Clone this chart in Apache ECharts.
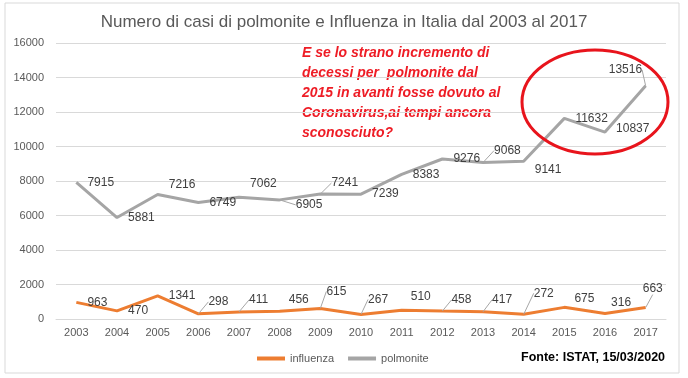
<!DOCTYPE html>
<html>
<head>
<meta charset="utf-8">
<script src="https://cdn.jsdelivr.net/npm/echarts@6/dist/echarts.min.js"></script>
<style>html,body{margin:0;padding:0;background:#fff}#c{width:688px;height:378px}</style>
</head>
<body>
<div id="c"></div>
<script>
const years = ['2003','2004','2005','2006','2007','2008','2009','2010','2011','2012','2013','2014','2015','2016','2017'];
const influenza = [963,470,1341,298,411,456,615,267,510,458,417,272,675,316,663];
const polmonite = [7915,5881,7216,6749,7062,6905,7241,7239,8383,9276,9068,9141,11632,10837,13516];
const yTicks = [0,2000,4000,6000,8000,10000,12000,14000,16000];

// label nudges (dx, dy) relative to the 'right' position
const polOffsets = [[1,0],[1,0],[1,-10],[1,0],[1,-13],[6,5],[1,-11],[1,0],[1,0],[1,0],[1,-12],[1,8],[1,0],[1,-3],[-47,-16]];
const polLeader = [0,0,0,0,0,1,1,0,0,0,1,0,0,0,1];
const infOffsets = [[1,0],[1,0],[1,0],[0,-12],[0,-12],[-1,-11],[-4,-17],[-3,-15],[-1,-14],[-1,-11],[-1,-12],[0,-21],[0,-9],[-4,-11],[-13,-19]];
const infLeader = [0,0,0,1,1,0,1,1,0,1,1,1,0,0,1];

const chart = echarts.init(document.getElementById('c'));
const FONT = 'Liberation Sans';

function mk(vals, leader){
  return vals.map((v,i)=>({value:v, labelLine:{show:!!leader[i]}}));
}
function layoutFn(offs){
  return function(p){ const o = offs[p.dataIndex]; return {dx:o[0], dy:o[1]}; };
}

chart.setOption({
  animation:false,
  textStyle:{fontFamily:FONT},
  title:{
    text:'Numero di casi di polmonite e Influenza in Italia dal 2003 al 2017',
    left:'center', top:9,
    textStyle:{fontFamily:FONT, fontSize:17, fontWeight:'normal', color:'#595959'}
  },
  grid:{left:56, right:22, top:43, bottom:59, containLabel:false},
  legend:{
    data:['influenza','polmonite'],
    left:252, top:348,
    itemWidth:28, itemHeight:4, itemGap:14,
    icon:'rect',
    textStyle:{fontFamily:FONT, fontSize:11, color:'#595959'}
  },
  xAxis:{
    type:'category', data:years, boundaryGap:true,
    axisLine:{show:true, lineStyle:{color:'#d9d9d9'}},
    axisTick:{show:false},
    axisLabel:{color:'#595959', fontSize:11, margin:8, fontFamily:FONT}
  },
  yAxis:{
    type:'value', min:yTicks[0], max:yTicks[yTicks.length-1], interval:2000,
    axisLine:{show:false}, axisTick:{show:false},
    splitLine:{lineStyle:{color:'#d9d9d9', width:1}},
    axisLabel:{color:'#595959', fontSize:11, margin:12, fontFamily:FONT, formatter:v=>String(v)}
  },
  series:[
    {
      name:'influenza', type:'line', data:mk(influenza, infLeader),
      symbol:'circle', symbolSize:0.1, showSymbol:true,
      lineStyle:{color:'#ED7D31', width:3}, itemStyle:{color:'#ED7D31'},
      label:{show:true, position:'right', distance:10, color:'#404040', fontSize:12, fontFamily:FONT},
      labelLine:{show:false, lineStyle:{color:'#a6a6a6', width:1}},
      labelLayout:layoutFn(infOffsets)
    },
    {
      name:'polmonite', type:'line', data:mk(polmonite, polLeader),
      symbol:'circle', symbolSize:0.1, showSymbol:true,
      lineStyle:{color:'#A5A5A5', width:3}, itemStyle:{color:'#A5A5A5'},
      label:{show:true, position:'right', distance:10, color:'#404040', fontSize:12, fontFamily:FONT},
      labelLine:{show:false, lineStyle:{color:'#a6a6a6', width:1}},
      labelLayout:layoutFn(polOffsets)
    }
  ],
  graphic:[
    {type:'rect', shape:{x:5, y:3, width:674, height:370}, style:{fill:null, stroke:'#d9d9d9', lineWidth:1}, silent:true, z:-1},
    {type:'text', left:302, top:43, style:{
      text:'E se lo strano incremento di\ndecessi per  polmonite dal\n2015 in avanti fosse dovuto al\nCoronavirus,ai tempi ancora\nsconosciuto?',
      fill:'#ee1c25', font:'italic bold 14px "Liberation Sans"', lineHeight:20
    }},
    {type:'ellipse', shape:{cx:595, cy:102, rx:73, ry:52}, style:{fill:null, stroke:'#e8141c', lineWidth:3}, z:10},
    {type:'text', left:521, top:351, style:{text:'Fonte: ISTAT, 15/03/2020', fill:'#000', font:'bold 12.5px "Liberation Sans"'}}
  ]
});
</script>
</body>
</html>
